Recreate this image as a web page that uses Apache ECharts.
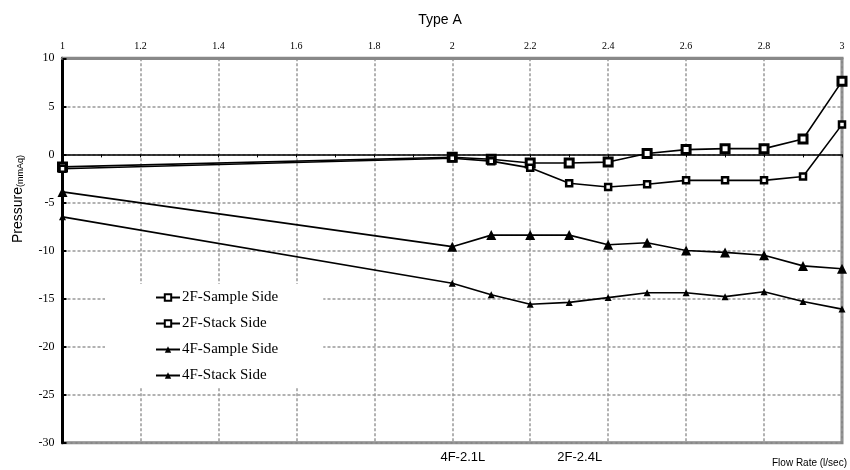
<!DOCTYPE html>
<html>
<head>
<meta charset="utf-8">
<script src="https://cdn.jsdelivr.net/npm/echarts@6/dist/echarts.min.js"></script>
<style>
  html, body { margin: 0; padding: 0; background: #fff; }
  #chart { width: 850px; height: 470px; }
</style>
</head>
<body>
<div id="chart"></div>
<script>
// Flow rate (l/sec) at each measurement
const flowRates = [1, 2, 2.1, 2.2, 2.3, 2.4, 2.5, 2.6, 2.7, 2.8, 2.9, 3];

// Pressure (mmAq) per measuring point
const f2Sample = [-1.3, -0.3, -0.5, -0.9, -0.9, -0.8, 0.1, 0.5, 0.6, 0.6, 1.6, 7.6];
const f2Stack  = [-1.5, -0.4, -0.7, -1.4, -3.0, -3.4, -3.1, -2.7, -2.7, -2.7, -2.3, 3.1];
const f4Sample = [-3.9, -9.6, -8.4, -8.4, -8.4, -9.4, -9.2, -10.0, -10.2, -10.5, -11.6, -11.9];
const f4Stack  = [-6.5, -13.4, -14.6, -15.6, -15.4, -14.9, -14.4, -14.4, -14.8, -14.3, -15.3, -16.1];

const seriesNames = ['2F-Sample Side', '2F-Stack Side', '4F-Sample Side', '4F-Stack Side'];

// Reference flow rates marked with vertical lines
const refLines = [
  { value: 2.1, label: '4F-2.1L', color: '#ff0000' },
  { value: 2.4, label: '2F-2.4L', color: '#0000ff' }
];

const xTickLabels = ['1', '1.2', '1.4', '1.6', '1.8', '2', '2.2', '2.4', '2.6', '2.8', '3'];

const serif = 'Liberation Serif';
const sans = 'Liberation Sans';

function pairs(ys) {
  return flowRates.map((x, i) => [x, ys[i]]);
}

const chart = echarts.init(document.getElementById('chart'), null, { renderer: 'canvas' });

function lineSeries(name, ys, symbol, size, border) {
  return {
    name: name,
    type: 'line',
    xAxisIndex: 0,
    data: pairs(ys),
    symbol: symbol,
    symbolSize: size,
    showAllSymbol: true,
    clip: false,
    lineStyle: { color: '#000', width: 1.6 },
    itemStyle: symbol === 'rect'
      ? { color: '#fff', borderColor: '#000', borderWidth: border }
      : { color: '#000', borderWidth: 0 },
    emphasis: { disabled: true },
    z: 5
  };
}

const option = {
  animation: false,
  backgroundColor: '#fff',
  grid: {
    left: 62.5, right: 8, top: 58.3, bottom: 27.3,
    show: true,
    borderColor: '#888',
    borderWidth: 3,
    backgroundColor: 'transparent'
  },
  legend: {
    orient: 'vertical',
    left: 105,
    top: 284,
    padding: [6, 45, 5, 50],
    backgroundColor: '#fff',
    itemWidth: 24,
    itemHeight: 8,
    itemGap: 11,
    data: seriesNames,
    textStyle: { fontFamily: serif, fontSize: 15, color: '#000', lineHeight: 15, padding: [0, 0, 0, -3] },
    z: 10
  },
  xAxis: [
    {
      type: 'value',
      position: 'top',
      min: 1, max: 3, interval: 0.2,
      axisLine: { onZero: false, show: true, lineStyle: { color: '#888', width: 3 } },
      axisTick: { show: false },
      axisLabel: {
        fontFamily: serif, fontSize: 10, color: '#000', margin: 7,
        formatter: (v) => {
          const i = Math.round((v - 1) / 0.2);
          return xTickLabels[i] !== undefined ? xTickLabels[i] : '';
        }
      },
      splitLine: { show: true, lineStyle: { color: '#999', width: 1.5, type: [3, 2] } }
    },
    {
      // Zero line with minor ticks every 0.1
      type: 'value',
      position: 'bottom',
      min: 1, max: 3, interval: 0.1,
      axisLine: { onZero: true, show: true, lineStyle: { color: '#000', width: 1.5 } },
      axisTick: { show: true, length: 3, lineStyle: { color: '#000', width: 1 } },
      axisLabel: { show: false },
      splitLine: { show: false }
    }
  ],
  yAxis: {
    type: 'value',
    min: -30, max: 10, interval: 5,
    axisLine: { onZero: false, show: true, lineStyle: { color: '#000', width: 3 } },
    axisTick: { show: true, inside: true, length: 4, lineStyle: { color: '#000', width: 2 } },
    axisLabel: { fontFamily: serif, fontSize: 12, color: '#000', margin: 8 },
    splitLine: { show: true, lineStyle: { color: '#999', width: 1.5, type: [3, 2] } }
  },
  series: [
    lineSeries(seriesNames[0], f2Sample, 'rect', 8, 3),
    lineSeries(seriesNames[1], f2Stack, 'rect', 6, 2.5),
    lineSeries(seriesNames[2], f4Sample, 'triangle', 10),
    lineSeries(seriesNames[3], f4Stack, 'triangle', 7),
    {
      name: 'refs',
      type: 'line',
      data: [],
      clip: false,
      silent: true,
      markLine: {
        symbol: ['none', 'none'],
        silent: true,
        animation: false,
        label: { show: false },
        data: refLines.map(r => [
          { coord: [r.value, -31.1], lineStyle: { color: r.color, width: 2, type: 'solid' } },
          { coord: [r.value, 10.8] }
        ])
      },
      z: 6
    }
  ]
};

chart.setOption(option);

// Text placed through the chart's own coordinate conversion
const graphics = refLines.map(r => ({
  type: 'text',
  x: chart.convertToPixel({ xAxisIndex: 0 }, r.value) - 6,
  y: 457,
  style: {
    text: r.label,
    font: '13px ' + sans,
    fill: '#000',
    align: 'right',
    verticalAlign: 'middle'
  }
}));

graphics.push({
  type: 'text',
  x: 440,
  y: 20,
  style: {
    text: 'Type A',
    font: '14px ' + sans,
    fill: '#000',
    align: 'center',
    verticalAlign: 'middle'
  }
});

graphics.push({
  type: 'text',
  x: 847,
  y: 463,
  style: {
    text: 'Flow Rate (l/sec)',
    font: '10px ' + sans,
    fill: '#000',
    align: 'right',
    verticalAlign: 'middle'
  }
});

graphics.push({
  type: 'text',
  x: 18,
  y: 199,
  rotation: Math.PI / 2,
  style: {
    text: '{a|Pressure}{b|(mmAq)}',
    align: 'center',
    verticalAlign: 'middle',
    rich: {
      a: { fontFamily: sans, fontSize: 14, fill: '#000' },
      b: { fontFamily: sans, fontSize: 9, fill: '#000', verticalAlign: 'bottom', padding: [4, 0, 0, 0] }
    }
  }
});

chart.setOption({ graphic: graphics });
</script>
</body>
</html>
